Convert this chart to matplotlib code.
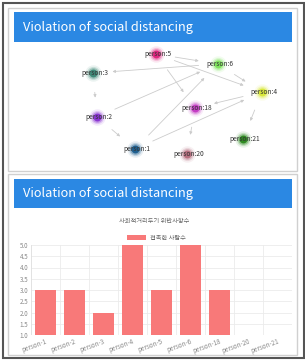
import matplotlib
matplotlib.use('Agg')
import matplotlib.pyplot as plt
from matplotlib.patches import Rectangle

plt.rcParams['font.family'] = ['Noto Sans CJK KR', 'DejaVu Sans']

# network data (screen layout of the graph view)
node_names = ['5', '6', '3', '4', '18', '2', '21', '1', '20']
node_x = [156, 218, 93, 262, 195, 97, 243, 135, 187]
node_y = [54, 64, 73, 92, 108, 117, 139, 149, 154]
node_colors = ['#e0257f', '#7ee35c', '#3f8a78', '#d9e83a', '#c43cc4',
               '#8a35d2', '#2f8a22', '#1f5f8f', '#b87080']
edges = [('5', '6'), ('5', '4'), ('6', '3'), ('6', '4'), ('2', '6'),
         ('1', '6'), ('1', '4'), ('4', '18'), ('5', '18'), ('3', '2'),
         ('2', '1'), ('18', '20'), ('4', '21')]

# bar chart data
persons = ['person-1', 'person-2', 'person-3', 'person-4', 'person-5',
           'person-6', 'person-18', 'person-20', 'person-21']
contacts = [3, 3, 2, 5, 3, 5, 3, 1, 1]
chart_title = '사회적거리두기 위반사항수'
legend_label = '접촉한 사람수'

W, H = 305, 362
fig = plt.figure(figsize=(W / 100, H / 100), dpi=100)
bg = fig.add_axes([0, 0, 1, 1])
bg.set_xlim(0, W)
bg.set_ylim(H, 0)
bg.axis('off')

# frames
bg.add_patch(Rectangle((2.5, 2.5), 301, 355.5, fill=False, ec='#555555', lw=1.5))
bg.add_patch(Rectangle((7.5, 7.5), 289, 163, fill=False, ec='#d0d0d0', lw=1))
bg.add_patch(Rectangle((7.5, 174), 289, 181, fill=False, ec='#d0d0d0', lw=1))
blue = '#2b88e3'
bg.add_patch(Rectangle((14, 12), 278, 30, color=blue, lw=0))
bg.add_patch(Rectangle((14, 179), 278, 29, color=blue, lw=0))
for ty in (27, 193.5):
    bg.text(23, ty, 'Violation of social distancing', color='white',
            fontsize=9.2, va='center', ha='left')

# network
pos = {n: (x, y) for n, x, y in zip(node_names, node_x, node_y)}
for a, b in edges:
    bg.annotate('', xy=pos[b], xytext=pos[a],
                arrowprops=dict(arrowstyle='-|>', color='#cccccc', lw=0.6,
                                shrinkA=14, shrinkB=14, mutation_scale=4))
for n, c in zip(node_names, node_colors):
    x, y = pos[n]
    for s, al in [(140, 0.1), (90, 0.2), (60, 0.35)]:
        bg.scatter(x, y, s=s, color=c, alpha=al, lw=0, zorder=3)
    bg.scatter(x, y, s=32, color=c, lw=0, zorder=4)
    bg.text(x + 2, y, 'person:' + n, fontsize=4.8, color='#333333',
            ha='center', va='center', zorder=5)

# bar chart
ax = fig.add_axes([31 / W, (H - 335) / H, 261 / W, 90 / H])
xs = range(len(persons))
ax.bar(xs, [v - 1 for v in contacts], bottom=1, width=0.72, color='#f87979')
ax.set_xlim(-0.5, len(persons) - 0.5)
ax.set_ylim(1, 5)
ax.set_yticks([1 + 0.5 * i for i in range(9)])
ax.set_yticklabels([f'{1 + 0.5 * i:.1f}' for i in range(9)])
ax.set_xticks(list(xs))
ax.set_xticklabels(persons, rotation=20, ha='right', rotation_mode='anchor')
ax.set_xticks([i + 0.5 for i in range(-1, len(persons))], minor=True)
ax.grid(True, which='minor', axis='x', color='#ebebeb', lw=0.6)
ax.grid(True, which='major', axis='y', color='#ebebeb', lw=0.6)
ax.set_axisbelow(True)
ax.tick_params(which='both', length=0, labelsize=4.5, colors='#888888', pad=2)
for s in ax.spines.values():
    s.set_visible(False)
ax.axvline(-0.5, color='#e0e0e0', lw=0.6)
ax.axhline(1, color='#e0e0e0', lw=0.6)

bg.text(154, 221, chart_title, fontsize=4.5, color='#666666', ha='center', va='center')
bg.add_patch(Rectangle((127, 235), 19, 5, color='#f87979', lw=0))
bg.text(150, 237.5, legend_label, fontsize=4.5, color='#666666', ha='left', va='center')

fig.savefig('out.png', dpi=100)
